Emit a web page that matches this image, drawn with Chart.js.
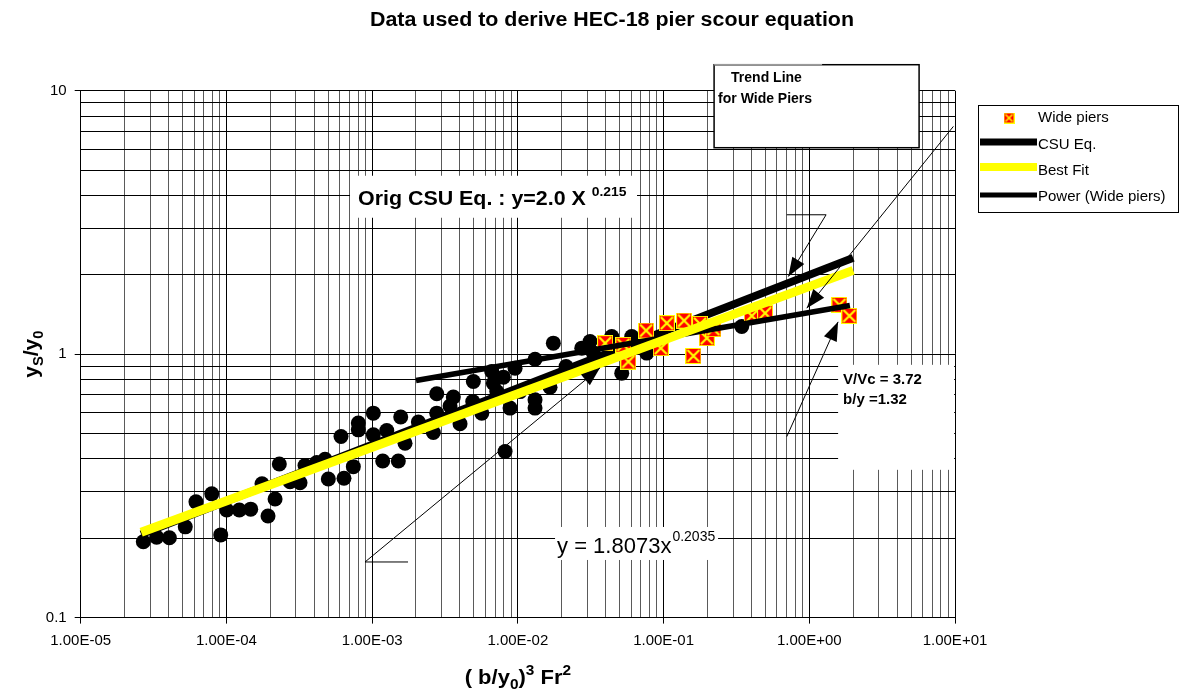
<!DOCTYPE html>
<html><head><meta charset="utf-8">
<script src="https://cdn.jsdelivr.net/npm/chart.js@4.4.1/dist/chart.umd.min.js"></script>
<style>html,body{margin:0;padding:0;background:#fff;overflow:hidden}</style>
</head><body>
<canvas id="c" width="1183" height="694"></canvas>
<script>
// ---------- data ----------
const xTickLabels = ['1.00E-05','1.00E-04','1.00E-03','1.00E-02','1.00E-01','1.00E+00','1.00E+01'];
const yTickLabels = ['0.1','1','10'];
const seriesNames = ['Wide piers','CSU Eq.','Best Fit','Power (Wide piers)'];

const dotX = [2.69e-5,3.32e-5,4.06e-5,5.22e-5,6.18e-5,7.93e-5,9.14e-5,1.005e-4,1.226e-4,1.468e-4,
  1.755e-4,1.93e-4,2.157e-4,2.307e-4,2.733e-4,3.2e-4,3.463e-4,4.17e-4,4.75e-4,5.005e-4,
  6.41e-4,6.115e-4,7.43e-4,8.04e-4,8.04e-4,1.019e-3,1.019e-3,1.26e-3,1.182e-3,1.513e-3,
  1.571e-3,1.682e-3,2.076e-3,2.63e-3,2.776e-3,2.776e-3,3.608e-3,3.425e-3,4.011e-3,4.95e-3,
  4.903e-3,5.655e-3,6.62e-3,6.79e-3,7.954e-3,7.165e-3,8.17e-3,8.84e-3,9.57e-3,1.035e-2,
  1.312e-2,1.312e-2,1.312e-2,1.663e-2,1.752e-2,2.142e-2,2.746e-2,3.13e-2,3.297e-2,4.41e-2,
  5.164e-2,6.047e-2,7.67e-2,0.344];
const dotY = [0.194,0.202,0.201,0.221,0.275,0.295,0.206,0.256,0.256,0.258,
  0.322,0.243,0.282,0.383,0.328,0.325,0.378,0.388,0.399,0.336,
  0.338,0.487,0.374,0.548,0.516,0.597,0.494,0.513,0.393,0.393,
  0.577,0.459,0.553,0.504,0.707,0.597,0.687,0.636,0.544,0.787,
  0.661,0.597,0.859,0.776,0.818,0.721,0.427,0.624,0.885,0.721,
  0.671,0.624,0.957,0.749,1.101,0.897,1.054,1.117,1.009,1.166,
  0.847,1.166,1.009,1.273];

const wideX = [0.0397,0.0530,0.0573,0.0759,0.0957,0.1052,0.1383,0.1602,0.178,0.1979,0.2197,0.403,0.4974,1.609,1.884];
const wideY = [1.101,1.085,0.937,1.229,1.054,1.311,1.341,0.985,1.303,1.15,1.244,1.398,1.431,1.539,1.398];

const csuX = [2.6e-5, 2.0];
const csuY = [0.207, 2.32];
const bestX = [2.6e-5, 2.0];
const bestY = [0.211, 2.08];
const powerX = [2.0e-3, 1.9];
const powerY = [0.794, 1.53];

// ---------- annotations (anchored in data space) ----------
const notes = {
  csuBox:   {x:7.05e-4, y:4.755, w:287, h:42},
  fitBox:   {x:0.018,   y:0.2208, w:163, h:33},
  vvcBox:   {x:1.577,   y:0.911, w:116, h:105},
  trendBox: {x:0.2222,  y:12.55, w:205, h:83},
  arrows: [
    [[1.763e-3,0.1626],[8.94e-4,0.1626],[0.03665,0.887]],
    [[0.7007,3.381],[1.304,3.381],[0.7187,1.971]],
    [[9.75,7.32],[0.961,1.495]],
    [[0.7007,0.4864],[1.577,1.326]]
  ]
};

const FONT = "'Liberation Sans', Arial, Helvetica, sans-serif";
const xMajor = xTickLabels.map(Number);
const yMajor = yTickLabels.map(Number);

function gridValues(majors){
  const out = [];
  for (let i = 0; i < majors.length - 1; i++) for (let m = 1; m < 10; m++) out.push(m * majors[i]);
  out.push(majors[majors.length - 1]);
  return out;
}
function majorIndex(majors, v){ return majors.findIndex(m => Math.abs(v / m - 1) < 1e-9); }

function makeMarker(s){
  const c = document.createElement('canvas'); c.width = s; c.height = s;
  const g = c.getContext('2d');
  g.fillStyle = '#FF0000'; g.fillRect(0, 0, s, s);
  g.strokeStyle = '#FFFF00'; g.lineWidth = Math.max(1.5, s / 7.5);
  g.beginPath(); g.moveTo(2, 2); g.lineTo(s - 2, s - 2); g.moveTo(s - 2, 2); g.lineTo(2, s - 2); g.stroke();
  g.lineWidth = 1; g.strokeRect(0.5, 0.5, s - 1, s - 1);
  return c;
}
const markerBig = makeMarker(16);
const markerSmall = makeMarker(11);

const pts = (xs, ys) => xs.map((x, i) => ({x, y: ys[i]}));

function sText(ctx, txt, x, y, font, sx){
  ctx.save(); ctx.font = font; ctx.translate(x, y); ctx.scale(sx || 1, 1);
  ctx.textAlign = 'left'; ctx.fillText(txt, 0, 0); ctx.restore();
  ctx.save(); ctx.font = font; const w = ctx.measureText(txt).width * (sx || 1); ctx.restore();
  return w;
}
function segWidth(ctx, segs, sx){
  let w = 0; ctx.save();
  segs.forEach(s => { ctx.font = s.f; w += ctx.measureText(s.t).width * sx; });
  ctx.restore(); return w;
}
function drawSegs(ctx, segs, x, y, sx){
  segs.forEach(s => { x += sText(ctx, s.t, x, y + (s.dy || 0), s.f, sx); });
}
function arrowHead(ctx, x0, y0, x1, y1, len, hw){
  const a = Math.atan2(y1 - y0, x1 - x0), c = Math.cos(a), s = Math.sin(a);
  ctx.beginPath(); ctx.moveTo(x1, y1);
  ctx.lineTo(x1 - len * c + hw * s, y1 - len * s - hw * c);
  ctx.lineTo(x1 - len * c - hw * s, y1 - len * s + hw * c);
  ctx.closePath(); ctx.fill();
}

const decor = {
  id: 'decor',
  beforeDraw(chart){
    const c = chart.ctx; c.save(); c.fillStyle = '#fff'; c.fillRect(0, 0, chart.width, chart.height); c.restore();
  },
  beforeDatasetsDraw(chart){
    const c = chart.ctx, X = chart.scales.x, Y = chart.scales.y;
    const P = b => [X.getPixelForValue(b.x), Y.getPixelForValue(b.y)];
    c.save();
    c.fillStyle = '#fff';
    [notes.csuBox, notes.fitBox, notes.vvcBox].forEach(b => { const [px, py] = P(b); c.fillRect(px, py, b.w, b.h); });
    // trend box
    const tb = notes.trendBox; const [tx, ty] = P(tb);
    c.fillRect(tx, ty, tb.w, tb.h);
    c.strokeStyle = '#000'; c.lineWidth = 1.5; c.strokeRect(tx, ty, tb.w, tb.h);
    c.strokeStyle = '#9a9a9a'; c.lineWidth = 1.5;
    c.beginPath(); c.moveTo(tx, ty); c.lineTo(tx + 108, ty); c.stroke();
    c.fillStyle = '#000'; c.textBaseline = 'alphabetic';
    sText(c, 'Trend Line', tx + 17, ty + 17, 'bold 14px ' + FONT, 1);
    sText(c, 'for Wide Piers', tx + 4, ty + 38, 'bold 14px ' + FONT, 1);
    // orig CSU text
    const cb = notes.csuBox; const [cx, cy] = P(cb);
    const w1 = sText(c, 'Orig CSU Eq. : y=2.0 X', cx + 8, cy + 29, 'bold 20px ' + FONT, 1.07);
    sText(c, '0.215', cx + 8 + w1 + 6, cy + 20, 'bold 13px ' + FONT, 1.07);
    // best-fit equation
    const fb = notes.fitBox; const [fx, fy] = P(fb);
    const w2 = sText(c, 'y = 1.8073x', fx + 2, fy + 26, '22px ' + FONT, 1);
    sText(c, '0.2035', fx + 2 + w2 + 1, fy + 14, '14px ' + FONT, 1);
    // V/Vc
    const vb = notes.vvcBox; const [vx, vy] = P(vb);
    sText(c, 'V/Vc = 3.72', vx + 5, vy + 19, 'bold 15px ' + FONT, 1);
    sText(c, 'b/y =1.32', vx + 5, vy + 39, 'bold 15px ' + FONT, 1);
    c.restore();
  },
  afterDatasetsDraw(chart){
    const c = chart.ctx, X = chart.scales.x, Y = chart.scales.y;
    c.save(); c.strokeStyle = '#000'; c.fillStyle = '#000'; c.lineWidth = 1;
    notes.arrows.forEach(a => {
      const p = a.map(q => [X.getPixelForValue(q[0]), Y.getPixelForValue(q[1])]);
      c.beginPath(); c.moveTo(p[0][0], p[0][1]);
      for (let i = 1; i < p.length; i++) c.lineTo(p[i][0], p[i][1]);
      c.stroke();
      const n = p.length;
      arrowHead(c, p[n - 2][0], p[n - 2][1], p[n - 1][0], p[n - 1][1], 19, 7);
    });
    c.restore();
  },
  afterDraw(chart){
    const c = chart.ctx, A = chart.chartArea;
    c.save(); c.fillStyle = '#000'; c.textBaseline = 'alphabetic';
    // title
    const tf = 'bold 20px ' + FONT, tsx = 1.07;
    c.font = tf;
    const tw = c.measureText('Data used to derive HEC-18 pier scour equation').width * tsx;
    sText(c, 'Data used to derive HEC-18 pier scour equation', 612 - tw / 2, 26, tf, tsx);
    // x axis title
    const big = 'bold 20px ' + FONT, small = 'bold 14px ' + FONT;
    const xs = [{t:'( b/y', f:big}, {t:'0', f:small, dy:5}, {t:')', f:big}, {t:'3', f:small, dy:-9}, {t:' Fr', f:big}, {t:'2', f:small, dy:-9}];
    const xw = segWidth(c, xs, 1.1);
    drawSegs(c, xs, (A.left + A.right) / 2 - xw / 2, 684, 1.1);
    // y axis title
    const ys = [{t:'y', f:big}, {t:'S', f:small, dy:5}, {t:'/y', f:big}, {t:'0', f:small, dy:5}];
    const yw = segWidth(c, ys, 1.05);
    c.save(); c.translate(38, (A.top + A.bottom) / 2); c.rotate(-Math.PI / 2);
    drawSegs(c, ys, -yw / 2, 0, 1.05);
    c.restore();
    // legend
    c.strokeStyle = '#000'; c.lineWidth = 1;
    c.strokeRect(978.5, 105.5, 200, 107);
    c.drawImage(markerSmall, 1009 - 5.5, 118 - 5.5);
    c.lineCap = 'butt';
    c.beginPath(); c.lineWidth = 7; c.strokeStyle = '#000'; c.moveTo(980, 142); c.lineTo(1037, 142); c.stroke();
    c.beginPath(); c.lineWidth = 8; c.strokeStyle = '#FFFF00'; c.moveTo(980, 167); c.lineTo(1037, 167); c.stroke();
    c.beginPath(); c.lineWidth = 5; c.strokeStyle = '#000'; c.moveTo(980, 195); c.lineTo(1037, 195); c.stroke();
    c.textBaseline = 'middle';
    const lf = '15px ' + FONT;
    sText(c, seriesNames[0], 1038, 118, lf, 1);
    sText(c, seriesNames[1], 1038, 145, lf, 1);
    sText(c, seriesNames[2], 1038, 171, lf, 1);
    sText(c, seriesNames[3], 1038, 197, lf, 1);
    c.restore();
  }
};

const gridColorX = ctx => (ctx.tick && majorIndex(xMajor, ctx.tick.value) >= 0) ? '#000' : '#5a5a5a';
const gridColorY = ctx => '#000';
const tickColX = ctx => (ctx.tick && majorIndex(xMajor, ctx.tick.value) >= 0) ? '#000' : 'rgba(0,0,0,0)';
const tickColY = ctx => (ctx.tick && majorIndex(yMajor, ctx.tick.value) >= 0) ? '#000' : 'rgba(0,0,0,0)';

new Chart(document.getElementById('c'), {
  type: 'scatter',
  data: {
    datasets: [
      {label: 'Data', data: pts(dotX, dotY), pointStyle: 'circle', pointRadius: 7.5, pointHoverRadius: 7.5,
       backgroundColor: '#000', borderColor: '#000', pointBorderWidth: 0, showLine: false, order: 5},
      {label: seriesNames[1], data: pts(csuX, csuY), showLine: true, borderColor: '#000', borderWidth: 8,
       pointRadius: 0, pointHoverRadius: 0, order: 4},
      {label: seriesNames[0], data: pts(wideX, wideY), pointStyle: markerBig, pointRadius: 8, pointHoverRadius: 8,
       showLine: false, order: 3},
      {label: seriesNames[3], data: pts(powerX, powerY), showLine: true, borderColor: '#000', borderWidth: 5.5,
       pointRadius: 0, pointHoverRadius: 0, order: 2},
      {label: seriesNames[2], data: pts(bestX, bestY), showLine: true, borderColor: '#FFFF00', borderWidth: 9,
       pointRadius: 0, pointHoverRadius: 0, order: 1}
    ]
  },
  options: {
    responsive: false, animation: false, devicePixelRatio: 1, events: [],
    layout: {padding: {top: 90.7, right: 228, bottom: 0, left: 0}},
    plugins: {legend: {display: false}, title: {display: false}, tooltip: {enabled: false}},
    scales: {
      x: {
        type: 'logarithmic', position: 'bottom', min: xMajor[0], max: xMajor[xMajor.length - 1],
        afterBuildTicks: s => { s.ticks = gridValues(xMajor).map(v => ({value: v})); },
        afterFit: s => { s.height = 76.4; },
        ticks: {autoSkip: false, maxRotation: 0, minRotation: 0, padding: 8, color: '#000',
          font: {family: FONT, size: 15},
          callback: v => { const i = majorIndex(xMajor, v); return i >= 0 ? xTickLabels[i] : ''; }},
        grid: {color: gridColorX, lineWidth: 1, tickLength: 6, tickColor: tickColX, drawTicks: true},
        border: {color: '#000', width: 1}
      },
      y: {
        type: 'logarithmic', position: 'left', min: yMajor[0], max: yMajor[yMajor.length - 1],
        afterBuildTicks: s => { s.ticks = gridValues(yMajor).map(v => ({value: v})); },
        afterFit: s => { s.width = 80.7; },
        ticks: {autoSkip: false, padding: 8, color: '#000', font: {family: FONT, size: 15},
          callback: v => { const i = majorIndex(yMajor, v); return i >= 0 ? yTickLabels[i] : ''; }},
        grid: {color: gridColorY, lineWidth: 1, tickLength: 6, tickColor: tickColY, drawTicks: true},
        border: {color: '#000', width: 1}
      }
    }
  },
  plugins: [decor]
});
</script>
</body></html>
